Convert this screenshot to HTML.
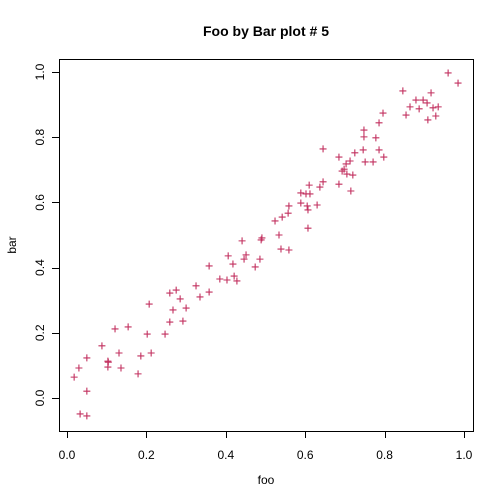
<!DOCTYPE html>
<html><head><meta charset="utf-8"><style>
body{margin:0;background:#fff}
svg{display:block;font-family:"Liberation Sans",sans-serif}
</style></head><body>
<svg id="chart" width="504" height="504" viewBox="0 0 504 504">
<text x="266" y="36" text-anchor="middle" font-size="14" font-weight="bold">Foo by Bar plot # 5</text>
<rect x="59.5" y="59.5" width="414" height="372" fill="none" stroke="#000" stroke-width="1"/>
<g id="xaxis"></g>
<g id="yaxis"></g>
<g id="points"></g>
<text x="266" y="484" text-anchor="middle" font-size="12">foo</text>
<text x="16" y="245" text-anchor="middle" font-size="12" transform="rotate(-90 16 245)">bar</text>
</svg>
<script>
const xTicks=[0,0.2,0.4,0.6,0.8,1.0];
const xTickLabels=["0.0","0.2","0.4","0.6","0.8","1.0"];
const yTicks=[0,0.2,0.4,0.6,0.8,1.0];
const yTickLabels=["0.0","0.2","0.4","0.6","0.8","1.0"];
const fooValues=[0.018,0.030,0.050,0.050,0.033,0.050,0.088,0.103,0.104,0.103,0.121,0.131,0.136,0.154,0.179,0.186,0.202,0.207,0.212,0.247,0.259,0.267,0.259,0.275,0.285,0.292,0.300,0.325,0.335,0.358,0.358,0.385,0.403,0.421,0.428,0.406,0.418,0.446,0.451,0.474,0.486,0.441,0.489,0.491,0.534,0.539,0.559,0.524,0.542,0.557,0.559,0.589,0.605,0.607,0.607,0.630,0.589,0.602,0.612,0.610,0.637,0.645,0.645,0.685,0.715,0.685,0.725,0.746,0.703,0.713,0.693,0.698,0.705,0.720,0.751,0.771,0.786,0.798,0.778,0.960,0.985,0.846,0.917,0.879,0.897,0.907,0.864,0.887,0.922,0.935,0.854,0.929,0.909,0.796,0.786,0.748,0.748];
const barValues=[0.064,0.092,0.123,0.021,-0.049,-0.055,0.160,0.113,0.110,0.095,0.212,0.138,0.092,0.218,0.074,0.129,0.196,0.288,0.138,0.196,0.233,0.270,0.322,0.331,0.304,0.236,0.276,0.344,0.310,0.325,0.405,0.365,0.362,0.374,0.359,0.436,0.411,0.426,0.439,0.402,0.426,0.482,0.485,0.491,0.500,0.457,0.454,0.543,0.555,0.567,0.589,0.598,0.589,0.577,0.521,0.592,0.629,0.626,0.626,0.653,0.647,0.663,0.764,0.656,0.635,0.739,0.752,0.761,0.718,0.727,0.696,0.702,0.687,0.684,0.724,0.724,0.761,0.739,0.798,0.997,0.966,0.942,0.936,0.914,0.914,0.905,0.893,0.887,0.890,0.893,0.868,0.865,0.853,0.874,0.844,0.822,0.801];
const NS="http://www.w3.org/2000/svg";
function xs(v){return 67+v*397;}
function ys(v){return 398-v*326;}
function mk(t,a,p){const e=document.createElementNS(NS,t);for(const k in a)e.setAttribute(k,a[k]);p.appendChild(e);return e;}
const xa=document.getElementById('xaxis'),ya=document.getElementById('yaxis'),pg=document.getElementById('points');
mk('line',{x1:xs(xTicks[0]),x2:xs(xTicks[xTicks.length-1]),y1:431.5,y2:431.5,stroke:'#000'},xa);
xTicks.forEach((v,i)=>{
 const l=mk('line',{x1:Math.round(xs(v))+0.5,x2:Math.round(xs(v))+0.5,y1:431,y2:438,stroke:'#000'},xa);
 
 
 const t=mk('text',{x:xs(v),y:459,'text-anchor':'middle','font-size':12},xa);
 t.textContent=xTickLabels[i];
 
 
});
mk('line',{x1:59.5,x2:59.5,y1:ys(yTicks[0]),y2:ys(yTicks[yTicks.length-1]),stroke:'#000'},ya);
yTicks.forEach((v,i)=>{
 const l=mk('line',{x1:52,x2:59,y1:Math.round(ys(v))+0.5,y2:Math.round(ys(v))+0.5,stroke:'#000'},ya);
 
 
 const t=mk('text',{x:44,y:ys(v),'text-anchor':'middle','font-size':12,transform:`rotate(-90 44 ${ys(v)})`},ya);
 t.textContent=yTickLabels[i];
 
 
});
fooValues.forEach((f,i)=>{
 const x=xs(f),y=ys(barValues[i]);
 const p=mk('path',{d:`M${x-3.5} ${y}H${x+3.5}M${x} ${y-3.5}V${y+3.5}`,stroke:'#c2305f','stroke-width':1.1,fill:'none'},pg);
 
 
});
</script>
</body></html>
